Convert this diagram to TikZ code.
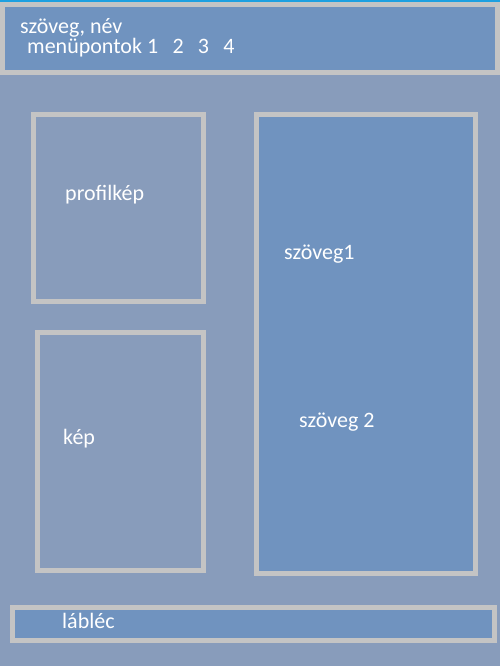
\documentclass[tikz,border=0pt]{standalone}
\usepackage{fontspec}
\setmainfont{Carlito}
\definecolor{hatter}{HTML}{889CBB}
\definecolor{kitoltes}{HTML}{7093BF}
\definecolor{keretszin}{HTML}{C4C4C4}
\definecolor{felsocsik}{HTML}{1EA0E0}
\tikzset{
  keret/.style={draw=keretszin, line width=5pt},
  felirat/.style={anchor=base west, inner sep=0pt, text=white, font=\fontsize{22}{24}\selectfont}
}
\begin{document}
\begin{tikzpicture}[x=1pt, y=-1pt]
    % 1. Háttér
    \useasboundingbox (0,0) rectangle (500,666);
    \fill[hatter] (0,0) rectangle (500,666);
    \fill[felsocsik] (0,0) rectangle (500,2);

    % 2. Fejléc és lábléc
    \draw[keret, fill=kitoltes] (2.5,4.5) rectangle (497.5,72.5);
    \draw[keret, fill=kitoltes] (12.5,607.5) rectangle (494.5,640.5);

    % 3. Dobozok
    \draw[keret] (33.5,114.5) rectangle (203.5,301.5);
    \draw[keret] (37.5,332.5) rectangle (203.5,570.5);
    \draw[keret, fill=kitoltes] (256.5,114.5) rectangle (475.5,573.5);

    % 4. Feliratok
    \node[felirat] (nev) at (20,34) {szöveg, név};
    \node[felirat] (menu) at (27,54) {menüpontok 1\hspace{0.65em}2\hspace{0.65em}3\hspace{0.65em}4};
    \node[felirat] (profil) at (65,200) {profilkép};
    \node[felirat] (kep) at (63,444) {kép};
    \node[felirat] (szoveg1) at (284,259) {szöveg1};
    \node[felirat] (szoveg2) at (299,427) {szöveg 2};
    \node[felirat] (lablec) at (62,628) {lábléc};
\end{tikzpicture}
\end{document}
